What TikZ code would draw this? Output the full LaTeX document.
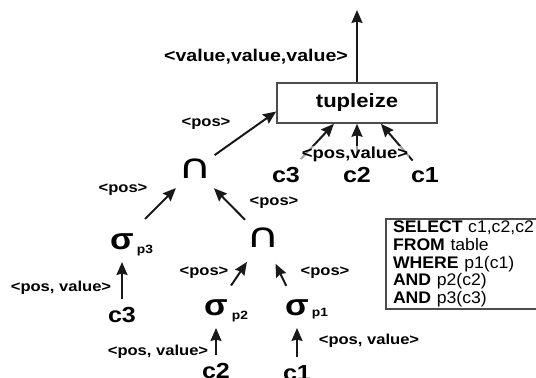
\documentclass[tikz,border=0pt]{standalone}
\usepackage{fontspec}
\setmainfont{Liberation Sans}[FakeStretch=1.15]
\newfontfamily\capfont{DejaVu Sans}[FakeStretch=1.35]
\newfontfamily\sqlfont{Liberation Sans}[FakeStretch=1.05]
\usetikzlibrary{arrows.meta}

\tikzset{
  arr/.style={draw=black!90,line width=1pt,-{Stealth[length=6.5pt,width=5.5pt,inset=0.8pt]}},
  lbl/.style={font=\fontsize{7.2}{8.6}\selectfont\bfseries,inner sep=0pt},
  col/.style={font=\fontsize{10.9}{12}\selectfont\bfseries,inner sep=0pt},
  sig/.style={font=\fontsize{15}{16}\selectfont\bfseries,inner sep=0pt},
  sub/.style={font=\fontsize{6}{7}\selectfont\bfseries,inner sep=0pt},
  isect/.style={font=\capfont\fontsize{17}{18}\selectfont,inner sep=0pt},
}

\begin{document}
\begin{tikzpicture}[x=0.5pt,y=-0.5pt]
      \useasboundingbox (0,0) rectangle (536,378);

      % operators
      \node (tup) at (357,103) [draw=black!70,line width=0.8pt,minimum width=80pt,minimum height=20pt,font=\fontsize{9.6}{11}\selectfont\bfseries] {tupleize};
      \coordinate (out) at (357,10);
      \node (cap1) at (195,169) [isect] {∩};
      \node (cap2) at (263,238) [isect] {∩};
      \node (s3) at (122,242) [sig] {σ};
      \node (s3p) at (145,251) [sub] {p3};
      \node (s2) at (216,308) [sig] {σ};
      \node (s2p) at (240,317) [sub] {p2};
      \node (s1) at (297,308) [sig] {σ};
      \node (s1p) at (320,314) [sub] {p1};

      % columns
      \node (c3t) at (286,175) [col] {c3};
      \node (c2t) at (357,175) [col] {c2};
      \node (c1t) at (425,175) [col] {c1};
      \node (c3b) at (122,315) [col] {c3};
      \node (c2b) at (216,371) [col] {c2};
      \node (c1b) at (297,373) [col] {c1};

      \draw[arr] (tup.north) -- (out);
      \draw[arr,shorten <=12pt] (cap1.center) -- (tup.186);
      \draw[arr,shorten <=16.3pt,shorten >=13.5pt] (s3.center) -- (cap1.center);
      \draw[arr,shorten <=12.8pt,shorten >=13.5pt] (cap2.center) -- (cap1.center);
      \draw[arr,shorten <=13.5pt,shorten >=14.4pt] (s2.center) -- (cap2.center);
      \draw[arr,shorten <=12.3pt,shorten >=14.3pt] (s1.center) -- (cap2.center);
      \draw[arr,shorten <=8pt,shorten >=10pt] (c3b.center) -- (s3.center);
      \draw[arr,shorten <=8pt,shorten >=10pt] (c2b.center) -- (s2.center);
      \draw[arr,shorten <=8pt,shorten >=10pt] (c1b.center) -- (s1.center);
      \draw[arr,shorten <=11pt] (c3t.center) -- (tup.222);
      \draw[arr,shorten <=11pt] (c2t.center) -- (tup.south);
      \draw[arr,shorten <=9.5pt] (c1t.center) -- (tup.319);

      % labels
      \node (vvv) at (256,57) [font=\fontsize{8.5}{10}\selectfont\bfseries,inner sep=0pt] {<value,value,value>};
      \node (pv0) at (355,154) [lbl,font=\fontsize{8}{9}\selectfont\bfseries,fill=white,fill opacity=0.6,text opacity=1,inner sep=0.5pt] {<pos,value>};
      \node (p1) at (206,124) [lbl] {<pos>};
      \node (p2) at (123,190) [lbl] {<pos>};
      \node (p3) at (274,203) [lbl] {<pos>};
      \node (p4) at (204,273) [lbl] {<pos>};
      \node (p5) at (325,273) [lbl] {<pos>};
      \node (pv1) at (61,288) [lbl] {<pos, value>};
      \node (pv2) at (158,352) [lbl] {<pos, value>};
      \node (pv3) at (369,341) [lbl] {<pos, value>};

      % query
      \node (sql) at (385,218) [anchor=north west,draw=black!70,line width=1pt,text width=83pt,minimum height=44.5pt,inner xsep=3.5pt,inner ysep=1pt,align=left,font=\sqlfont\fontsize{8.4}{8.85}\selectfont]
        {\textbf{SELECT} c1,c2,c2\\ \textbf{FROM} table\\ \textbf{WHERE} p1(c1)\\ \textbf{AND} p2(c2)\\ \textbf{AND} p3(c3)};
\end{tikzpicture}
\end{document}
